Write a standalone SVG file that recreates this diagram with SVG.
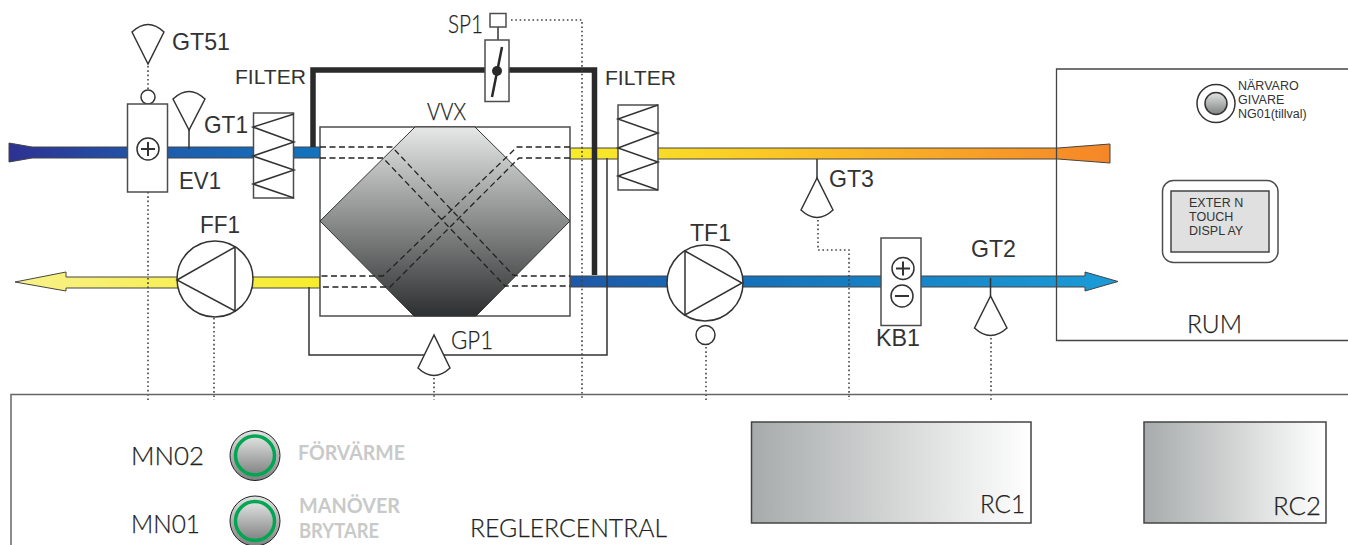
<svg xmlns="http://www.w3.org/2000/svg" width="1348" height="545" viewBox="0 0 1348 545">
<style>
.ln{fill:none;stroke:#333;stroke-width:1.5}
.bx{fill:#fff;stroke:#4d4d4d;stroke-width:1.5}
.wh{fill:#fff;stroke:#333;stroke-width:1.5;stroke-linejoin:miter}
.dot{fill:none;stroke:#444;stroke-width:1.6;stroke-dasharray:1.6 2.7}
.dash{fill:none;stroke:#222;stroke-width:1.3;stroke-dasharray:6 3.5}
.duct{stroke:#444;stroke-width:1}
.a{font-family:"Liberation Sans",Arial,sans-serif;fill:#333;font-size:24px}
.f{font-family:"Liberation Sans",Arial,sans-serif;fill:#333;font-size:21px}
.g{font-family:Lato,"Open Sans",sans-serif;font-weight:300;fill:#222;stroke:#222;stroke-width:.25;font-size:26px}
.s{font-family:"Liberation Sans",Arial,sans-serif;fill:#333;font-size:12.500px}
.m{font-family:Lato,"Open Sans",sans-serif;font-weight:700;fill:#c8cac9;font-size:20px}
</style>
<defs>
<linearGradient id="gBlueL" gradientUnits="userSpaceOnUse" x1="9" y1="0" x2="320" y2="0"><stop offset="0" stop-color="#2e3192"/><stop offset=".5" stop-color="#1f5cad"/><stop offset="1" stop-color="#1273bd"/></linearGradient>
<linearGradient id="gWarm" gradientUnits="userSpaceOnUse" x1="570" y1="0" x2="1110" y2="0"><stop offset="0" stop-color="#f8ec2a"/><stop offset=".35" stop-color="#fbc925"/><stop offset="1" stop-color="#f58628"/></linearGradient>
<linearGradient id="gYel" gradientUnits="userSpaceOnUse" x1="15" y1="0" x2="320" y2="0"><stop offset="0" stop-color="#f8f18a"/><stop offset="1" stop-color="#f7ec2a"/></linearGradient>
<linearGradient id="gBlueR" gradientUnits="userSpaceOnUse" x1="570" y1="0" x2="1118" y2="0"><stop offset="0" stop-color="#1f58a8"/><stop offset=".3" stop-color="#1570b9"/><stop offset="1" stop-color="#1a9cd8"/></linearGradient>
<linearGradient id="gVvx" x1="0" y1="0" x2="0" y2="1"><stop offset="0" stop-color="#e6e7e7"/><stop offset=".5" stop-color="#8a8c8c"/><stop offset="1" stop-color="#2e2f30"/></linearGradient>
<linearGradient id="gBtn" x1="0" y1="0" x2="0" y2="1"><stop offset="0" stop-color="#e2e3e3"/><stop offset="1" stop-color="#808282"/></linearGradient>
<linearGradient id="gRc" x1="0" y1="0" x2="1" y2="0"><stop offset="0" stop-color="#a7abab"/><stop offset="1" stop-color="#fff"/></linearGradient>
</defs>

<g id="connectors">
<path class="duct" fill="url(#gBlueL)" d="M9 143L32 147H320V158H32L9 162Z"/>
<path class="duct" fill="url(#gWarm)" d="M570 148H1058L1110 144V163L1058 159H570Z"/>
<path class="duct" fill="url(#gYel)" d="M15 282L66 272V277H320V288H66V291Z"/>
<path class="duct" fill="url(#gBlueR)" d="M570 276H1085V272L1118 281.5L1085 291V287H570Z"/>
<path fill="none" stroke="#2a2a2a" stroke-width="5.5" d="M313 147V70H594.5V275"/>
<path class="ln" d="M309 287V355H607V158"/>
<path class="ln" d="M189 130V149M498 27V40M817 159V178M990.5 278V296"/>
<path class="dot" d="M148 66V90M148 192V400M214 318V400M434 378V400M511 20H582V400M706 347V400M818 220V250H849V400M991 338V400"/>
</g>

<g id="VVX">
<rect class="bx" x="320" y="127" width="250" height="189"/>
<path fill="url(#gVvx)" stroke="#333" stroke-width="1" d="M415 127H475L570 221L476 316H414L320 221Z"/>
<path class="dash" d="M320 147H392L513 275L519 276H570M320 158H383L505 286H570M570 147H517L383 276H320M570 158H519L390 287H320"/>
<text class="g" x="427" y="120" textLength="39" lengthAdjust="spacingAndGlyphs" style="font-size:24px">VVX</text>
</g>

<g id="EV1">
<circle class="wh" cx="148" cy="97" r="7"/>
<rect class="bx" x="127.500" y="104" width="40" height="88"/>
<circle class="wh" cx="148" cy="149" r="11"/>
<path fill="none" stroke="#333" stroke-width="2" d="M141 149H155M148 142V156"/>
<text class="a" x="179" y="189" textLength="42" lengthAdjust="spacingAndGlyphs">EV1</text>
</g>
<g id="GT51">
<path class="wh" d="M148 64L132 32Q148 17 164 32Z"/>
<text class="a" x="172" y="50" textLength="58" lengthAdjust="spacingAndGlyphs">GT51</text>
</g>
<g id="GT1">
<path class="wh" d="M189 130L173 99Q189 84 205 99Z"/>
<text class="a" x="204" y="133" textLength="44" lengthAdjust="spacingAndGlyphs">GT1</text>
</g>
<g id="FILTER1">
<rect class="bx" x="253.500" y="113" width="40" height="85"/>
<path class="ln" d="M294 114L253 127L294 142L253 156L294 170L253 184L294 198"/>
<text class="f" x="235" y="84" textLength="71" lengthAdjust="spacingAndGlyphs">FILTER</text>
</g>
<g id="SP1">
<rect class="bx" x="490" y="13.500" width="16" height="13.500"/>
<rect class="bx" x="485" y="40" width="24" height="61.500"/>
<path fill="none" stroke="#2a2a2a" stroke-width="2.500" d="M502 47L492 97"/>
<circle cx="497" cy="71" r="5" fill="#2a2a2a"/>
<text class="g" x="448" y="33" textLength="35" lengthAdjust="spacingAndGlyphs">SP1</text>
</g>
<g id="FILTER2">
<rect class="bx" x="618" y="105" width="40" height="85"/>
<path class="ln" d="M658 105L618 119L658 133L618 148L658 162L618 176L658 190"/>
<text class="f" x="605" y="85" textLength="71" lengthAdjust="spacingAndGlyphs">FILTER</text>
</g>
<g id="GT3">
<path class="wh" d="M817 178L801 210Q817 225 833 210Z"/>
<text class="a" x="829" y="187" textLength="45" lengthAdjust="spacingAndGlyphs">GT3</text>
</g>
<g id="FF1">
<circle class="wh" cx="215" cy="279" r="38"/>
<path class="ln" d="M177 280L235 247V311Z"/>
<text class="a" x="200" y="233" textLength="40" lengthAdjust="spacingAndGlyphs">FF1</text>
</g>
<g id="GP1">
<path class="wh" d="M434 335L418 368Q434 383 450 368Z"/>
<text class="g" x="451" y="349" textLength="42" lengthAdjust="spacingAndGlyphs">GP1</text>
</g>
<g id="TF1">
<circle class="wh" cx="705" cy="283" r="38"/>
<path class="ln" d="M685 251L742 283L685 315Z"/>
<circle class="wh" cx="705.500" cy="335" r="9.500"/>
<text class="a" x="690" y="241" textLength="41" lengthAdjust="spacingAndGlyphs">TF1</text>
</g>
<g id="KB1">
<rect class="bx" x="881" y="238" width="40" height="87.500"/>
<circle class="wh" cx="903" cy="268.500" r="11"/>
<path fill="none" stroke="#333" stroke-width="2" d="M896 268.500H910M903 261.500V275.500"/>
<circle class="wh" cx="902" cy="296" r="11"/>
<path fill="none" stroke="#333" stroke-width="2" d="M895 296H909"/>
<text class="a" x="876" y="346" textLength="44" lengthAdjust="spacingAndGlyphs">KB1</text>
</g>
<g id="GT2">
<path class="wh" d="M990.500 296L974.500 328Q990.500 343 1007 328Z"/>
<text class="a" x="971" y="257" textLength="45" lengthAdjust="spacingAndGlyphs">GT2</text>
</g>

<g id="RUM">
<path fill="none" stroke="#444" stroke-width="1.300" d="M1348 69H1056.500V340.500H1348"/>
<text class="g" x="1187" y="333" textLength="55" lengthAdjust="spacingAndGlyphs">RUM</text>
</g>
<g id="NG01">
<circle class="wh" cx="1216" cy="103.500" r="19"/>
<circle cx="1216" cy="103.500" r="11" fill="url(#gBtn)" stroke="#333" stroke-width="1.500"/>
<text class="s" x="1238" y="90">NÄRVARO</text>
<text class="s" x="1238" y="104">GIVARE</text>
<text class="s" x="1238" y="118">NG01(tillval)</text>
</g>
<g id="DISPLAY">
<rect class="bx" x="1162.500" y="180.500" width="115.500" height="82" rx="11"/>
<rect x="1171" y="191" width="98" height="61" fill="#e0e0e0" stroke="#444" stroke-width="1.500"/>
<text class="s" x="1189" y="207">EXTER N</text>
<text class="s" x="1189" y="221">TOUCH</text>
<text class="s" x="1189" y="235">DISPL AY</text>
</g>

<g id="REGLERCENTRAL">
<path fill="none" stroke="#666" stroke-width="1.500" d="M11 545V394.500H1348"/>
<text class="g" x="470" y="537" textLength="197" lengthAdjust="spacingAndGlyphs">REGLERCENTRAL</text>
</g>
<g id="MN02">
<circle cx="255" cy="455.500" r="25" fill="url(#gBtn)" stroke="#222" stroke-width="1"/>
<circle cx="255" cy="455.500" r="19.500" fill="url(#gBtn)" stroke="#00a651" stroke-width="3.500"/>
<text class="g" x="131" y="465" textLength="73" lengthAdjust="spacingAndGlyphs">MN02</text>
<text class="m" x="298" y="460" textLength="107" lengthAdjust="spacingAndGlyphs">FÖRVÄRME</text>
</g>
<g id="MN01">
<circle cx="255" cy="521" r="25" fill="url(#gBtn)" stroke="#222" stroke-width="1"/>
<circle cx="255" cy="521" r="19.500" fill="url(#gBtn)" stroke="#00a651" stroke-width="3.500"/>
<text class="g" x="131" y="533" textLength="69" lengthAdjust="spacingAndGlyphs">MN01</text>
<text class="m" x="299" y="513" textLength="101" lengthAdjust="spacingAndGlyphs">MANÖVER</text>
<text class="m" x="299" y="538" textLength="80" lengthAdjust="spacingAndGlyphs">BRYTARE</text>
</g>
<g id="RC1">
<rect x="751.500" y="422" width="279.500" height="101" fill="url(#gRc)" stroke="#444" stroke-width="1.500"/>
<text class="g" x="980" y="513" textLength="45" lengthAdjust="spacingAndGlyphs">RC1</text>
</g>
<g id="RC2">
<rect x="1144" y="422" width="182" height="101" fill="url(#gRc)" stroke="#444" stroke-width="1.500"/>
<text class="g" x="1273" y="515" textLength="48" lengthAdjust="spacingAndGlyphs">RC2</text>
</g>
</svg>
